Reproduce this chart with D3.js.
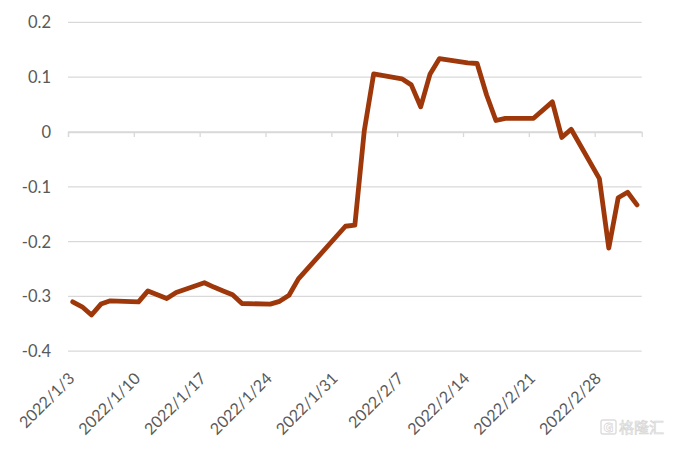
<!DOCTYPE html>
<html>
<head>
<meta charset="utf-8">
<script src="https://cdn.jsdelivr.net/npm/d3@7"></script>
<style>
  html, body { margin: 0; padding: 0; background: #ffffff; }
  svg { display: block; }
</style>
</head>
<body>
<div id="chart"></div>
<script>
// ---- data ----
const dates = [
  "2022-01-03","2022-01-04","2022-01-05","2022-01-06","2022-01-07",
  "2022-01-10","2022-01-11","2022-01-12","2022-01-13","2022-01-14",
  "2022-01-17","2022-01-18","2022-01-19","2022-01-20","2022-01-21",
  "2022-01-24","2022-01-25","2022-01-26","2022-01-27",
  "2022-02-01","2022-02-02","2022-02-03","2022-02-04",
  "2022-02-07","2022-02-08","2022-02-09","2022-02-10","2022-02-11",
  "2022-02-14","2022-02-15","2022-02-16","2022-02-17","2022-02-18",
  "2022-02-21","2022-02-23","2022-02-24","2022-02-25",
  "2022-02-28","2022-03-01","2022-03-02","2022-03-03","2022-03-04"
];
const values = [
  -0.310,-0.319,-0.334,-0.314,-0.308,
  -0.310,-0.290,-0.297,-0.304,-0.293,
  -0.275,-0.283,-0.290,-0.297,-0.313,
  -0.314,-0.309,-0.298,-0.268,
  -0.172,-0.170,0.002,0.106,
  0.097,0.086,0.046,0.106,0.134,
  0.126,0.125,0.068,0.021,0.025,
  0.025,0.055,-0.010,0.005,
  -0.085,-0.212,-0.120,-0.110,-0.133
];
const yTicks = [-0.4,-0.3,-0.2,-0.1,0,0.1,0.2];
const yTickLabels = ["-0.4","-0.3","-0.2","-0.1","0","0.1","0.2"];
const xTickDates = ["2022-01-03","2022-01-10","2022-01-17","2022-01-24","2022-01-31",
                    "2022-02-07","2022-02-14","2022-02-21","2022-02-28"];
const xTickLabels = ["2022/1/3","2022/1/10","2022/1/17","2022/1/24","2022/1/31",
                     "2022/2/7","2022/2/14","2022/2/21","2022/2/28"];
const xDomain = ["2022-01-03","2022-03-05"];

// ---- layout ----
const W = 676, H = 450;
const mLeft = 68, mRight = 641.7, mTop = 22.4, mBottom = 351.2;
const parse = d3.utcParse("%Y-%m-%d");
const DAY = 864e5;

const svg = d3.select("#chart").append("svg")
  .attr("width", W).attr("height", H);

const x = d3.scaleUtc().domain(xDomain.map(parse)).range([mLeft, mRight]);
const y = d3.scaleLinear().domain([-0.4, 0.2]).range([mBottom, mTop]);

const textColor = "#595959";
const gridColor = "#d9d9d9";
const font = "Lato, 'Open Sans', sans-serif";

// gridlines
svg.append("g").selectAll("line").data(yTicks).join("line")
  .attr("x1", mLeft).attr("x2", mRight)
  .attr("y1", d => y(d)).attr("y2", d => y(d))
  .attr("stroke", gridColor).attr("stroke-width", 1.3);

// y labels
svg.append("g").selectAll("text").data(yTicks).join("text")
  .attr("x", 51).attr("y", d => y(d)).attr("dy", "0.36em")
  .attr("text-anchor", "end")
  .attr("font-family", font).attr("font-size", 16.5)
  .attr("fill", textColor)
  .text((d, i) => yTickLabels[i]);

// x axis at y=0 with weekly ticks
const xAxis = d3.axisBottom(x)
  .tickValues(xTickDates.map(parse))
  .tickSize(5)
  .tickFormat("");
const gx = svg.append("g").attr("transform", `translate(0,${y(0)})`).call(xAxis);
gx.select(".domain").attr("stroke", gridColor).attr("stroke-width", 1.3);
gx.selectAll(".tick line").attr("stroke", gridColor).attr("stroke-width", 1.3);

// x labels (rotated)
svg.append("g").selectAll("text").data(xTickDates).join("text")
  .attr("transform", d => `translate(${x(parse(d)) + 7.5},${379.5}) rotate(-45)`)
  .attr("text-anchor", "end")
  .attr("font-family", font).attr("font-size", 16)
  .attr("fill", textColor)
  .text((d, i) => xTickLabels[i]);

// line
const pts = dates.map((d, i) => ({ t: new Date(parse(d).getTime() + DAY / 2), v: values[i] }));
const line = d3.line().x(d => x(d.t)).y(d => y(d.v));
svg.append("path").datum(pts)
  .attr("d", line)
  .attr("fill", "none")
  .attr("stroke", "#9e380a")
  .attr("stroke-width", 4.8)
  .attr("stroke-linejoin", "round")
  .attr("stroke-linecap", "round");

// watermark
const wm = svg.append("g");
wm.append("rect").attr("x", 601).attr("y", 420).attr("width", 15).attr("height", 14)
  .attr("rx", 2).attr("fill", "none").attr("stroke", "#dcdcdc").attr("stroke-width", 1.4);
wm.append("text").attr("x", 608.5).attr("y", 432).attr("text-anchor", "middle")
  .attr("font-family", "'DejaVu Sans', sans-serif").attr("font-size", 12).attr("font-weight", "bold")
  .attr("fill", "#ffffff").attr("stroke", "#d8d8d8").attr("stroke-width", 0.8).text("G");
wm.append("text").attr("x", 619).attr("y", 433)
  .attr("font-family", "'Noto Sans CJK SC', sans-serif").attr("font-size", 15)
  .attr("fill", "#f6f6f6").attr("stroke", "#d6d6d6").attr("stroke-width", 0.7)
  .text("格隆汇");
</script>
</body>
</html>
